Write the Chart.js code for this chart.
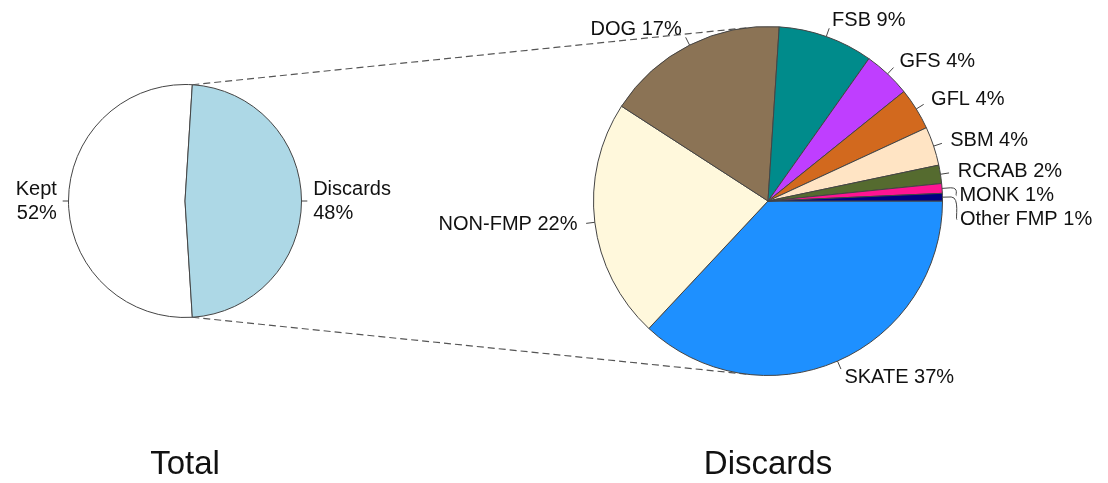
<!DOCTYPE html>
<html>
<head>
<meta charset="utf-8">
<script src="https://cdn.jsdelivr.net/npm/chart.js@4/dist/chart.umd.min.js"></script>
<style>
  body { margin: 0; background: #fff; }
  #wrap { position: relative; width: 1108px; height: 483px; }
  #wrap canvas { position: absolute; left: 0; top: 0; }
</style>
</head>
<body>
<div id="wrap">
  <canvas id="totalChart" width="1108" height="483"></canvas>
  <canvas id="discardChart" width="1108" height="483"></canvas>
</div>
<script>
// Total catch split
const totalLabels = ['Kept', 'Discards'];
const totalValues = [52, 48];
const totalColors = ['#FFFFFF', '#ADD8E6'];

// Discards by species group (clockwise from 3 o'clock)
const discardLabels = ['SKATE', 'NON-FMP', 'DOG', 'FSB', 'GFS', 'GFL', 'SBM', 'RCRAB', 'MONK', 'Other FMP'];
const discardValues = [37.0, 22.2, 16.9, 8.8, 4.4, 3.9, 3.6, 1.7, 0.9, 0.7];
const discardColors = ['#1E90FF', '#FFF8DC', '#8B7355', '#008B8B', '#BF3EFF', '#D2691E', '#FFE4C4', '#556B2F', '#FF1493', '#000080'];

const FONT = "'Liberation Sans', Arial, sans-serif";

// R-style pie labels: short tick from the rim, text at 1.1 * radius,
// crowded labels on the right side pushed down a bit
const pieLabels = {
  id: 'pieLabels',
  afterDatasetsDraw(chart, args, opts) {
    const ctx = chart.ctx;
    const arcs = chart.getDatasetMeta(0).data;
    const values = chart.data.datasets[0].data;
    const sum = values.reduce((a, b) => a + b, 0);
    const gap = 24;

    const items = arcs.map((arc, i) => {
      const mid = (arc.startAngle + arc.endAngle) / 2;
      const r = arc.outerRadius;
      const c = Math.cos(mid), s = Math.sin(mid);
      const pct = Math.round(values[i] / sum * 100) + '%';
      return {
        c, s,
        x0: arc.x + c * r, y0: arc.y + s * r,
        x1: arc.x + c * r * 1.05, y1: arc.y + s * r * 1.05,
        tx: arc.x + c * r * 1.1, ty: arc.y + s * r * 1.1, baseY: arc.y + s * r * 1.1,
        lines: opts.twoLine ? [chart.data.labels[i], pct] : [chart.data.labels[i] + ' ' + pct]
      };
    });
    if (!opts.twoLine) {
      const right = items.filter(it => it.c >= 0).sort((a, b) => a.ty - b.ty);
      for (let k = 1; k < right.length; k++) {
        if (right[k].ty < right[k - 1].ty + gap) right[k].ty = right[k - 1].ty + gap;
      }
    }

    ctx.save();
    ctx.font = '20px ' + FONT;
    ctx.textBaseline = 'middle';
    items.forEach(it => {
      ctx.strokeStyle = '#444';
      ctx.lineWidth = 1;
      ctx.beginPath();
      ctx.moveTo(it.x0, it.y0);
      ctx.lineTo(it.x1, it.y1);
      if (it.ty - it.baseY > 1) {
        ctx.bezierCurveTo(it.x1 + 9, it.y1, it.x1 + 4, it.ty, it.tx - 3, it.ty);
      }
      ctx.stroke();
      ctx.fillStyle = '#111';
      ctx.textAlign = it.c >= 0 ? 'left' : 'right';
      it.lines.forEach((t, k) => {
        ctx.fillText(t, it.tx, it.ty + (k - (it.lines.length - 1) / 2) * gap);
      });
    });
    ctx.restore();
  }
};

// caption under each pie
const caption = {
  id: 'caption',
  afterDraw(chart, args, opts) {
    const arc = chart.getDatasetMeta(0).data[0];
    const ctx = chart.ctx;
    ctx.save();
    ctx.font = '33px ' + FONT;
    ctx.fillStyle = '#111';
    ctx.textAlign = 'center';
    ctx.textBaseline = 'alphabetic';
    ctx.fillText(opts.text, arc.x, chart.height - 9);
    ctx.restore();
  }
};

const baseOptions = {
  responsive: false,
  animation: false,
  events: [],
  plugins: { legend: { display: false }, tooltip: { enabled: false } }
};

const totalChart = new Chart(document.getElementById('totalChart'), {
  type: 'pie',
  data: {
    labels: totalLabels,
    datasets: [{ data: totalValues, backgroundColor: totalColors, borderColor: '#444', borderWidth: 1 }]
  },
  options: {
    ...baseOptions,
    rotation: 176.4,
    layout: { padding: { left: 68, right: 806, top: 84, bottom: 165 } },
    plugins: { ...baseOptions.plugins, pieLabels: { twoLine: true }, caption: { text: 'Total' } }
  },
  plugins: [pieLabels, caption]
});

// dashed tangent lines from the Discards slice to the second pie
const connectors = {
  id: 'connectors',
  beforeDatasetsDraw(chart) {
    const src = totalChart.getDatasetMeta(0).data[1];
    const dst = chart.getDatasetMeta(0).data[0];
    const R = dst.outerRadius;
    const ctx = chart.ctx;
    ctx.save();
    ctx.strokeStyle = '#555';
    ctx.lineWidth = 1.2;
    ctx.setLineDash([7, 4]);
    [[src.startAngle, -1], [src.endAngle, 1]].forEach(([ang, side]) => {
      const px = src.x + Math.cos(ang) * src.outerRadius;
      const py = src.y + Math.sin(ang) * src.outerRadius;
      const dx = px - dst.x, dy = py - dst.y;
      const d = Math.hypot(dx, dy);
      const a = Math.atan2(dy, dx) - side * Math.acos(R / d);
      ctx.beginPath();
      ctx.moveTo(px, py);
      ctx.lineTo(dst.x + Math.cos(a) * R, dst.y + Math.sin(a) * R);
      ctx.stroke();
    });
    ctx.restore();
  }
};

new Chart(document.getElementById('discardChart'), {
  type: 'pie',
  data: {
    labels: discardLabels,
    datasets: [{ data: discardValues, backgroundColor: discardColors, borderColor: '#444', borderWidth: 1 }]
  },
  options: {
    ...baseOptions,
    rotation: 90,
    layout: { padding: { left: 593, right: 165, top: 26, bottom: 107 } },
    plugins: { ...baseOptions.plugins, pieLabels: { twoLine: false }, caption: { text: 'Discards' } }
  },
  plugins: [connectors, pieLabels, caption]
});
</script>
</body>
</html>
